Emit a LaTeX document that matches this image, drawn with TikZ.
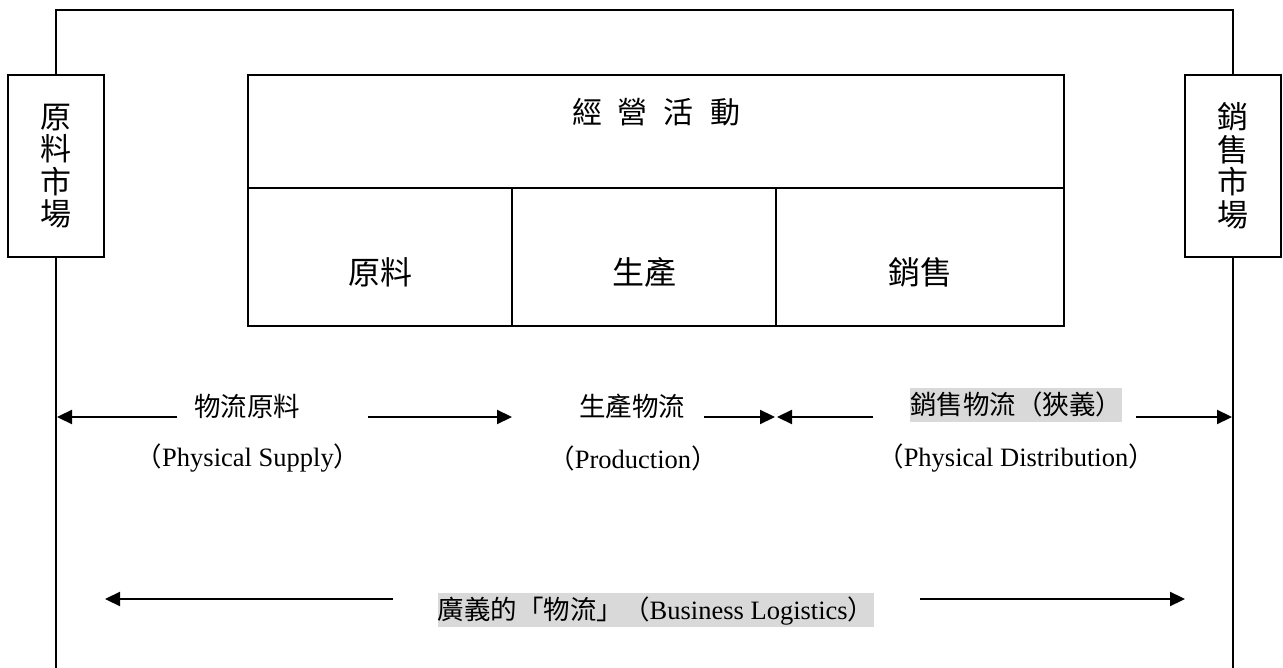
\documentclass[tikz,border=0pt]{standalone}
\usepackage{fontspec}
\setmainfont{Liberation Serif}
\newfontfamily\cjk{Noto Sans CJK TC}
\usetikzlibrary{arrows.meta}
\begin{document}
\begin{tikzpicture}[x=1pt,y=-1pt,
  line width=2.2pt,
  frameline/.style={line width=2.2pt},
  boxcell/.style={draw, line width=2.2pt, inner sep=0pt},
  sidebox/.style={draw, line width=2.2pt, minimum width=96pt, minimum height=182pt, inner sep=0pt,
    align=center, font=\cjk\fontsize{31pt}{32.5pt}\selectfont},
  celllabel/.style={inner sep=0pt, font=\cjk\fontsize{32pt}{36pt}\selectfont},
  rowtext/.style={inner sep=0pt, font=\fontsize{26.5pt}{30pt}\selectfont},
  hilite/.style={rowtext, fill={rgb,255:red,217;green,217;blue,217}, inner xsep=0pt, inner ysep=4pt,
    text height=22.5pt, text depth=4pt},
  flow/.style={-{Triangle[length=15pt,width=14pt]}, line width=2.2pt}
]
\useasboundingbox (0,0) rectangle (1283,668);

% side market boxes
\node[sidebox] (lbox) at (56,166) {原\\料\\市\\場};
\node[sidebox] (rbox) at (1233,166) {銷\\售\\市\\場};

% outer frame
\coordinate (ftl) at (56,10);
\coordinate (ftr) at (1233,10);
\coordinate (fbl) at (56,670);
\coordinate (fbr) at (1233,670);
\draw[frameline] (lbox.north) -- (ftl) -- (ftr) -- (rbox.north);
\draw[frameline] (lbox.south) -- (fbl);
\draw[frameline] (rbox.south) -- (fbr);

% main box
\node[boxcell, minimum width=816pt, minimum height=113pt] (top) at (656,131.5) {};
\node[boxcell, minimum width=264pt, minimum height=138pt] (c1) at (380,257) {};
\node[boxcell, minimum width=264pt, minimum height=138pt] (c2) at (644,257) {};
\node[boxcell, minimum width=288pt, minimum height=138pt] (c3) at (920,257) {};

\node[celllabel, font=\cjk\fontsize{30pt}{34pt}\selectfont] (title) at (656,112)
  {經\hspace{16pt}營\hspace{16pt}活\hspace{16pt}動};
\node[celllabel] (l1) at (380,272) {原料};
\node[celllabel] (l2) at (644,272) {生產};
\node[celllabel] (l3) at (920,272) {銷售};

% row 1 labels
\node[rowtext] (t1) at (247,406) {\cjk 物流原料};
\node[rowtext] (e1) at (248,458) {{\cjk （}Physical Supply{\cjk ）}};
\node[rowtext] (t2) at (632,406) {\cjk 生產物流};
\node[rowtext] (e2) at (633,458) {{\cjk （}Production{\cjk ）}};
\node[hilite] (t3) at (1016,405) {\cjk 銷售物流（狹義）};
\node[rowtext] (e3) at (1016,458) {{\cjk （}Physical Distribution{\cjk ）}};

% row 1 arrows
\coordinate (a1s) at (177,417);  \coordinate (a1e) at (57,417);
\coordinate (a2s) at (368,417);  \coordinate (a2e) at (512,417);
\coordinate (a3s) at (704,417);  \coordinate (a3e) at (775,417);
\coordinate (a4s) at (873,417);  \coordinate (a4e) at (777,417);
\coordinate (a5s) at (1136,417); \coordinate (a5e) at (1232,417);
\draw[flow] (a1s) -- (a1e);
\draw[flow] (a2s) -- (a2e);
\draw[flow] (a3s) -- (a3e);
\draw[flow] (a4s) -- (a4e);
\draw[flow] (a5s) -- (a5e);

% bottom row
\node[hilite] (t4) at (656,610) {{\cjk 廣義的「物流」（}Business Logistics{\cjk ）}};
\coordinate (b1s) at (393,599);  \coordinate (b1e) at (105,599);
\coordinate (b2s) at (920,599);  \coordinate (b2e) at (1185,599);
\draw[flow] (b1s) -- (b1e);
\draw[flow] (b2s) -- (b2e);
\end{tikzpicture}
\end{document}
